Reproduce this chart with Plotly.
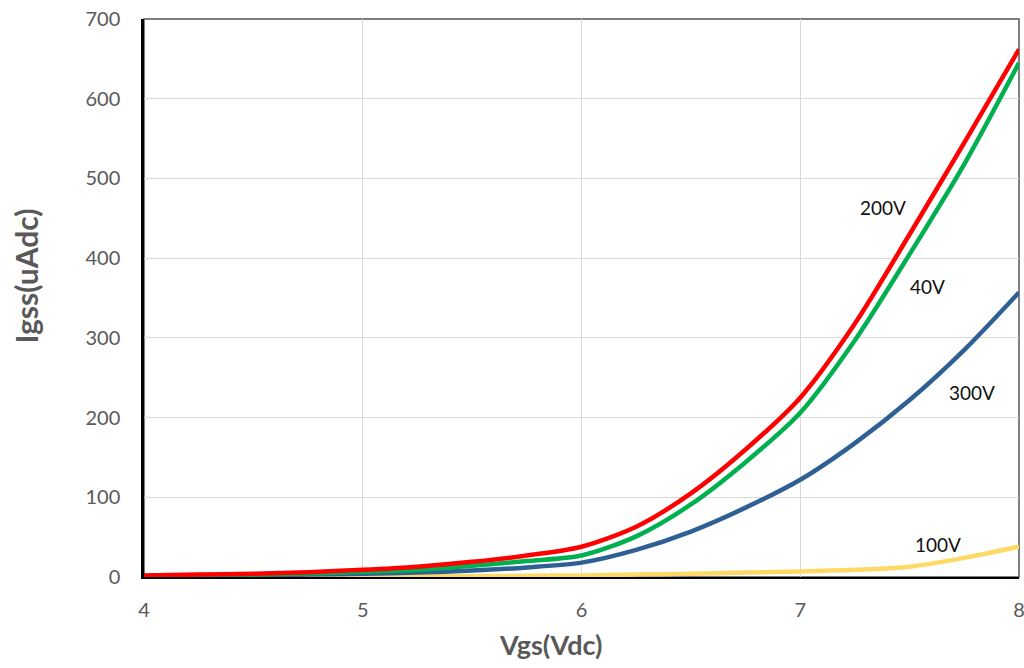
import plotly.graph_objects as go

vgs = [4.0, 4.25, 4.5, 4.75, 5.0, 5.25, 5.5, 5.75, 6.0, 6.25, 6.5, 6.75, 7.0, 7.25, 7.5, 7.75, 8.0]

i_200v = [2, 3, 4, 6, 9, 13, 19, 27, 38, 63, 105, 160, 225, 318, 430, 545, 662]
i_40v = [1.5, 2, 3, 4.5, 6.5, 9, 14, 20, 27, 51, 91, 144, 206, 297, 405, 518, 645]
i_300v = [1, 1.5, 2, 3, 4, 5.5, 8, 12, 18, 34, 57, 87, 122, 168, 222, 285, 357]
i_100v = [0, 0.2, 0.3, 0.4, 0.5, 0.8, 1, 1.5, 2, 3, 4, 5.5, 7, 9, 13, 24, 38]

labels = ["200V", "40V", "300V", "100V"]
label_x = [7.38, 7.58, 7.785, 7.63]
label_y = [463, 365, 232, 41]

x_ticks = [4, 5, 6, 7, 8]
y_ticks = [0, 100, 200, 300, 400, 500, 600, 700]

x_title = "Vgs(Vdc)"
y_title = "Igss(uAdc)"

fig = go.Figure()
series = [
    (i_100v, "#FFD966"),
    (i_300v, "#2E6094"),
    (i_40v, "#00B050"),
    (i_200v, "#FF0000"),
]
for ys, col in series:
    fig.add_trace(go.Scatter(x=vgs, y=ys, mode="lines",
                             line=dict(color=col, width=4.5, shape="spline", smoothing=0.8),
                             hoverinfo="skip", showlegend=False))

for t, lx, ly in zip(labels, label_x, label_y):
    fig.add_annotation(x=lx, y=ly, text=t, showarrow=False,
                       font=dict(family="Lato", size=19, color="#111111"))

# axis titles (placed as in the reference, slightly off-centre)
fig.add_annotation(x=5.856, y=0, yref="paper", text="<b>" + x_title + "</b>", showarrow=False,
                   xanchor="center", yanchor="middle", yshift=-67,
                   font=dict(family="Lato", size=27, color="#595959"))
fig.add_annotation(x=0, xref="paper", y=377, text="<b>" + y_title + "</b>", showarrow=False,
                   textangle=-90, xanchor="center", yanchor="middle", xshift=-118,
                   font=dict(family="Lato", size=30, color="#595959"))

fig.add_shape(type="rect", xref="paper", yref="paper", x0=0, y0=0, x1=1, y1=1,
              line=dict(color="#555555", width=1.5), layer="below")

fig.update_layout(
    width=1024, height=668,
    margin=dict(l=144, r=5, t=19, b=91),
    paper_bgcolor="white", plot_bgcolor="white",
    font=dict(family="Lato", color="#595959"),
)
fig.update_xaxes(
    range=[4, 8], tickvals=x_ticks, ticks="", showgrid=True, gridcolor="#D9D9D9", gridwidth=1,
    showline=True, linecolor="black", linewidth=2, zeroline=False, automargin=False,
    ticklabeloverflow="allow",
    tickfont=dict(size=20, color="#595959"), ticklabelstandoff=14,
)
fig.update_yaxes(
    range=[0, 700], tickvals=y_ticks, ticks="", showgrid=True, gridcolor="#D9D9D9", gridwidth=1,
    showline=True, linecolor="black", linewidth=2.5, zeroline=False, automargin=False,
    ticklabeloverflow="allow",
    tickfont=dict(size=20, color="#595959"), ticklabelstandoff=17,
)

fig.write_html("out.html", config={"displayModeBar": False},
               post_script="document.body.style.margin='0';document.body.style.overflow='hidden';")
